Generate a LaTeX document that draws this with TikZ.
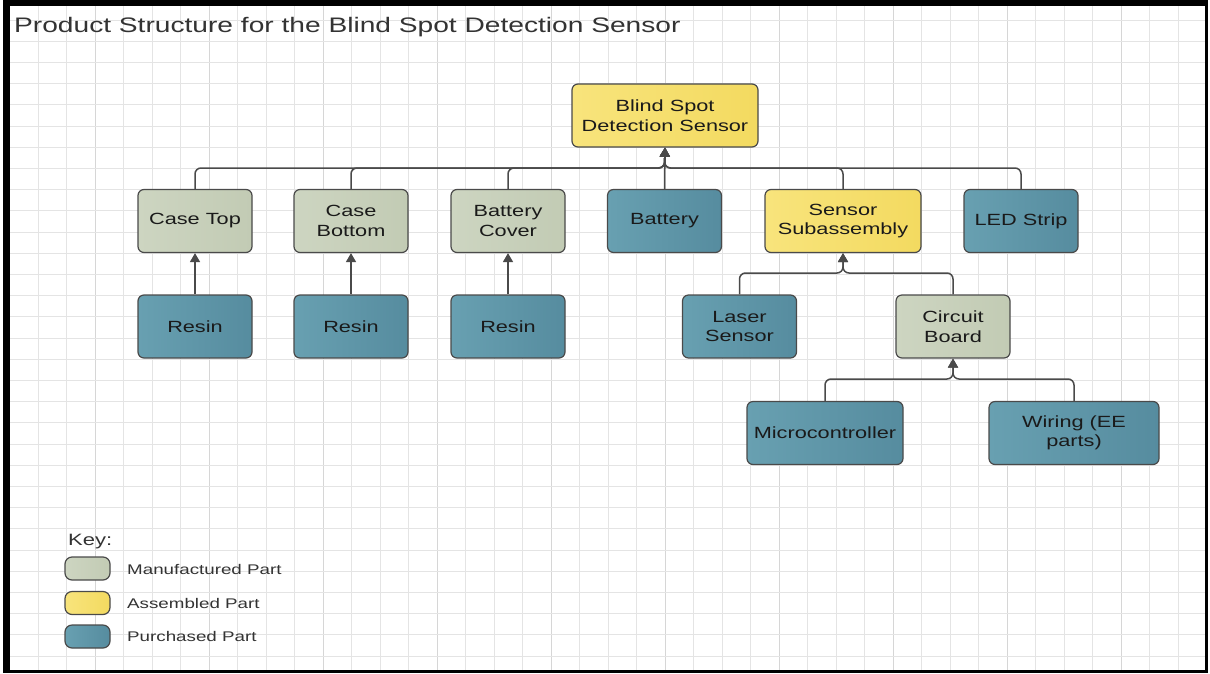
\documentclass[tikz,border=0pt]{standalone}
\usepackage{fontspec}
\setmainfont{Liberation Sans}[FakeStretch=1.34]
\usetikzlibrary{arrows.meta}

\definecolor{mfgA}{HTML}{CDD5C1}
\definecolor{mfgB}{HTML}{C2CBB4}
\definecolor{asmA}{HTML}{F8E47C}
\definecolor{asmB}{HTML}{F3DA60}
\definecolor{purA}{HTML}{68A0B1}
\definecolor{purB}{HTML}{568C9F}
\definecolor{edge}{HTML}{4A4A4A}
\definecolor{gridc}{HTML}{E4E4E4}
\definecolor{gridm}{HTML}{D6D6D6}
\definecolor{ink}{HTML}{1A1A1A}
\definecolor{ink2}{HTML}{333333}

\begin{document}
\begin{tikzpicture}[x=1pt,y=-1pt,
  part/.style={draw=edge, line width=1.2pt, rounded corners=6pt,
    minimum width=114pt, minimum height=63pt, align=center, text=ink,
    font=\fontsize{16.2}{19.5}\selectfont, inner sep=2pt},
  mfg/.style={part, left color=mfgA, right color=mfgB},
  asm/.style={part, left color=asmA, right color=asmB},
  pur/.style={part, left color=purA, right color=purB},
  swatch/.style={minimum width=45pt, minimum height=23pt, inner sep=0pt, rounded corners=7pt},
  label/.style={anchor=base west, inner sep=0pt, text=ink2},
  link/.style={draw=edge, line width=1.5pt, rounded corners=6pt},
  up/.style={link, -{Triangle[width=10pt,length=9pt]}},
]
\useasboundingbox (0,0) rectangle (1210,673);

% frame
\fill[black] (3,0) rectangle (1208,673);
\fill[white] (10,6) rectangle (1205,670);

% graph paper
\begin{scope}
  \clip (10,6) rectangle (1205,670);
  \foreach \i in {0,...,40}
    \draw[gridc, line width=1pt] ({38+28.5*\i},6) -- ({38+28.5*\i},670);
  \foreach \i in {2,6,...,38}
    \draw[gridm, line width=1pt] ({38+28.5*\i},6) -- ({38+28.5*\i},670);
  \foreach \j in {0,...,30}
    \draw[gridc, line width=1pt] (10,{20+21.2*\j}) -- (1205,{20+21.2*\j});
\end{scope}

% heading
\node[label, font=\fontsize{21}{25}\selectfont] (title) at (14,32)
  {Product Structure for the Blind Spot Detection Sensor};

% product structure
\node[asm, minimum width=186pt] (top) at (665,115.5) {Blind Spot\\Detection Sensor};

\node[mfg] (ct)  at (195,221)   {Case Top};
\node[mfg] (cb)  at (351,221)   {Case\\Bottom};
\node[mfg] (bc)  at (508,221)   {Battery\\Cover};
\node[pur] (bat) at (664.5,221) {Battery};
\node[asm, minimum width=156pt] (ss) at (843,221) {Sensor\\Subassembly};
\node[pur] (led) at (1021,221)  {LED Strip};

\node[pur] (r1) at (195,326.5) {Resin};
\node[pur] (r2) at (351,326.5) {Resin};
\node[pur] (r3) at (508,326.5) {Resin};
\node[pur] (ls)  at (739.5,326.5) {Laser\\Sensor};
\node[mfg] (cbd) at (953,326.5)   {Circuit\\Board};

\node[pur, minimum width=156pt] (mc) at (825,433)  {Microcontroller};
\node[pur, minimum width=170pt] (wr) at (1074,433) {Wiring (EE\\parts)};

% connectors
\coordinate (j0) at (664.5,168);
\coordinate (j1) at (843,273);
\coordinate (j2) at (953,379);

\foreach \c in {ct,cb,bc,ss,led}
  \draw[up] (\c.north) |- (j0) -- (top.south);
\draw[up] (bat.north) -- (top.south);

\draw[up] (r1.north) -- (ct.south);
\draw[up] (r2.north) -- (cb.south);
\draw[up] (r3.north) -- (bc.south);

\foreach \c in {ls,cbd}
  \draw[up] (\c.north) |- (j1) -- (ss.south);

\foreach \c in {mc,wr}
  \draw[up] (\c.north) |- (j2) -- (cbd.south);

% key
\node[label, font=\fontsize{16.4}{19}\selectfont] (keyhead) at (68,545) {Key:};
\node[mfg, swatch] (k1) at (87.5,568.5) {};
\node[asm, swatch] (k2) at (87.5,603)   {};
\node[pur, swatch] (k3) at (87.5,636.5) {};
\node[label, font=\fontsize{14}{17}\selectfont] (k1t) at (127,574) {Manufactured Part};
\node[label, font=\fontsize{14}{17}\selectfont] (k2t) at (127,608) {Assembled Part};
\node[label, font=\fontsize{14}{17}\selectfont] (k3t) at (127,641) {Purchased Part};
\end{tikzpicture}
\end{document}
